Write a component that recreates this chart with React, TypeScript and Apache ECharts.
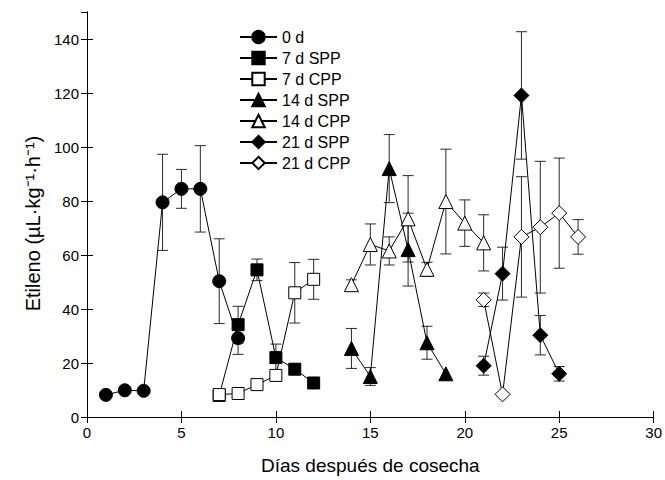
import React, { useEffect, useRef } from "react";
import * as echarts from "echarts";

const seriesNames = ["0 d", "7 d SPP", "7 d CPP", "14 d SPP", "14 d CPP", "21 d SPP", "21 d CPP"];

const days0 = [1, 2, 3, 4, 5, 6, 7, 8];
const mean0 = [8.2, 9.9, 9.7, 79.5, 84.5, 84.5, 50.3, 29.2];
const err0 = [0, 0, 0, 17.8, 7.2, 16.0, 15.7, 6.0];

const days7 = [7, 8, 9, 10, 11, 12];
const mean7S = [8.0, 34.2, 54.5, 22.0, 17.7, 12.6];
const err7S = [0, 6.8, 4.0, 5.0, 0, 0];
const mean7C = [8.3, 8.7, 12.0, 15.4, 46.0, 51.0];
const err7C = [0, 0, 0, 0, 11.2, 7.4];

const days14S = [14, 15, 16, 17, 18, 19];
const mean14S = [25.4, 15.0, 92.0, 62.0, 27.5, 16.0];
const err14S = [7.4, 3.3, 12.6, 13.5, 6.1, 0];
const days14C = [14, 15, 16, 17, 18, 19, 20, 21];
const mean14C = [49.0, 63.9, 61.5, 73.4, 54.7, 79.8, 71.8, 64.5];
const err14C = [1.8, 7.6, 5.2, 16.0, 2.6, 19.4, 8.6, 10.4];

const days21S = [21, 22, 23, 24, 25];
const mean21S = [19.0, 53.1, 119.1, 30.3, 16.0];
const err21S = [3.5, 9.8, 23.6, 7.3, 2.7];
const days21C = [21, 22, 23, 24, 25, 26];
const mean21C = [43.4, 8.4, 66.7, 70.3, 75.5, 66.7];
const err21C = [2.5, 0, 22.3, 24.4, 20.4, 6.4];

const xTicks = [0, 5, 10, 15, 20, 25, 30];
const yTicks = [0, 20, 40, 60, 80, 100, 120, 140];

const FONT = "'Liberation Sans', Arial, Helvetica, sans-serif";

type Def = {
  name: string;
  days: number[];
  mean: number[];
  err: number[];
  symbol: string;
  size: number;
  filled: boolean;
};

const defs: Def[] = [
  { name: seriesNames[0], days: days0, mean: mean0, err: err0, symbol: "circle", size: 13, filled: true },
  { name: seriesNames[1], days: days7, mean: mean7S, err: err7S, symbol: "rect", size: 12, filled: true },
  { name: seriesNames[2], days: days7, mean: mean7C, err: err7C, symbol: "rect", size: 12, filled: false },
  { name: seriesNames[3], days: days14S, mean: mean14S, err: err14S, symbol: "triangle", size: 14, filled: true },
  { name: seriesNames[4], days: days14C, mean: mean14C, err: err14C, symbol: "triangle", size: 14, filled: false },
  { name: seriesNames[5], days: days21S, mean: mean21S, err: err21S, symbol: "diamond", size: 15, filled: true },
  { name: seriesNames[6], days: days21C, mean: mean21C, err: err21C, symbol: "diamond", size: 15, filled: false },
];

export default function App() {
  const ref = useRef<HTMLDivElement>(null);
  useEffect(() => {
    if (!ref.current) return;
    const chart = echarts.init(ref.current, undefined, { renderer: "svg" });

    const errData: number[][] = [];
    defs.forEach((d) => {
      d.days.forEach((x, i) => {
        if (d.err[i] > 0) errData.push([x, d.mean[i] - d.err[i], d.mean[i] + d.err[i]]);
      });
    });

    const errSeries: any = {
      type: "custom",
      z: 1,
      silent: true,
      encode: { x: 0, y: [1, 2] },
      data: errData,
      renderItem: (params: any, api: any) => {
        const x = api.value(0);
        const lo = api.coord([x, api.value(1)]);
        const hi = api.coord([x, api.value(2)]);
        const w = 5.5;
        const style = { stroke: "#2a2a2a", lineWidth: 1 };
        return {
          type: "group",
          children: [
            { type: "line", shape: { x1: hi[0], y1: hi[1], x2: lo[0], y2: lo[1] }, style },
            { type: "line", shape: { x1: hi[0] - w, y1: hi[1], x2: hi[0] + w, y2: hi[1] }, style },
            { type: "line", shape: { x1: lo[0] - w, y1: lo[1], x2: lo[0] + w, y2: lo[1] }, style },
          ],
        };
      },
    };

    const lineSeries = defs.map((d, k) => ({
      type: "line",
      name: d.name,
      z: 2 + k,
      data: d.days.map((x, i) => [x, d.mean[i]]),
      symbol: d.symbol,
      symbolSize: d.size,
      showAllSymbol: true,
      lineStyle: { color: "#000", width: 1 },
      itemStyle: {
        color: d.filled ? "#000" : "#fff",
        borderColor: "#000",
        borderWidth: 1,
        opacity: 1,
      },
      emphasis: { disabled: true },
    }));

    const axisCommon = {
      axisLine: { show: true, lineStyle: { color: "#000", width: 1 } },
      axisTick: { show: true, inside: true, length: 6, lineStyle: { color: "#000" } },
      splitLine: { show: false },
    };

    chart.setOption({
      animation: false,
      backgroundColor: "#fff",
      grid: { left: 87, right: 10, top: 12, bottom: 59, containLabel: false },
      legend: {
        orient: "vertical",
        left: 234,
        top: 24,
        itemWidth: 37,
        itemHeight: 15.5,
        itemGap: 5,
        data: seriesNames,
        selectedMode: false,
        textStyle: { fontSize: 16, color: "#000", fontFamily: FONT },
      },
      xAxis: [
        {
          type: "value",
          min: xTicks[0],
          max: xTicks[xTicks.length - 1],
          interval: 5,
          position: "bottom",
          ...axisCommon,
          axisLabel: { fontSize: 15, color: "#000", fontFamily: FONT, margin: 8 },
          name: "Días después de cosecha",
          nameLocation: "middle",
          nameGap: 39,
          nameTextStyle: { fontSize: 19, color: "#000", fontFamily: FONT },
        },
        {
          type: "value",
          min: xTicks[0],
          max: xTicks[xTicks.length - 1],
          interval: 5,
          position: "top",
          ...axisCommon,
          axisLabel: { show: false },
        },
      ],
      yAxis: [
        {
          type: "value",
          min: yTicks[0],
          max: 150,
          interval: 20,
          position: "left",
          ...axisCommon,
          axisLabel: { fontSize: 15, color: "#000", fontFamily: FONT, margin: 8, showMaxLabel: false },
          name: "Etileno (µL·kg⁻¹·h⁻¹)",
          nameLocation: "middle",
          nameGap: 43,
          nameRotate: 90,
          nameTextStyle: { fontSize: 20, color: "#000", fontFamily: FONT, padding: [0, 18, 0, 0] },
        },
        {
          type: "value",
          min: yTicks[0],
          max: 150,
          interval: 20,
          position: "right",
          ...axisCommon,
          axisLabel: { show: false },
        },
      ],
      series: [errSeries, ...lineSeries],
    });

    return () => chart.dispose();
  }, []);

  return <div ref={ref} style={{ width: 665, height: 480, position: "absolute", left: 0, top: 0 }} />;
}
